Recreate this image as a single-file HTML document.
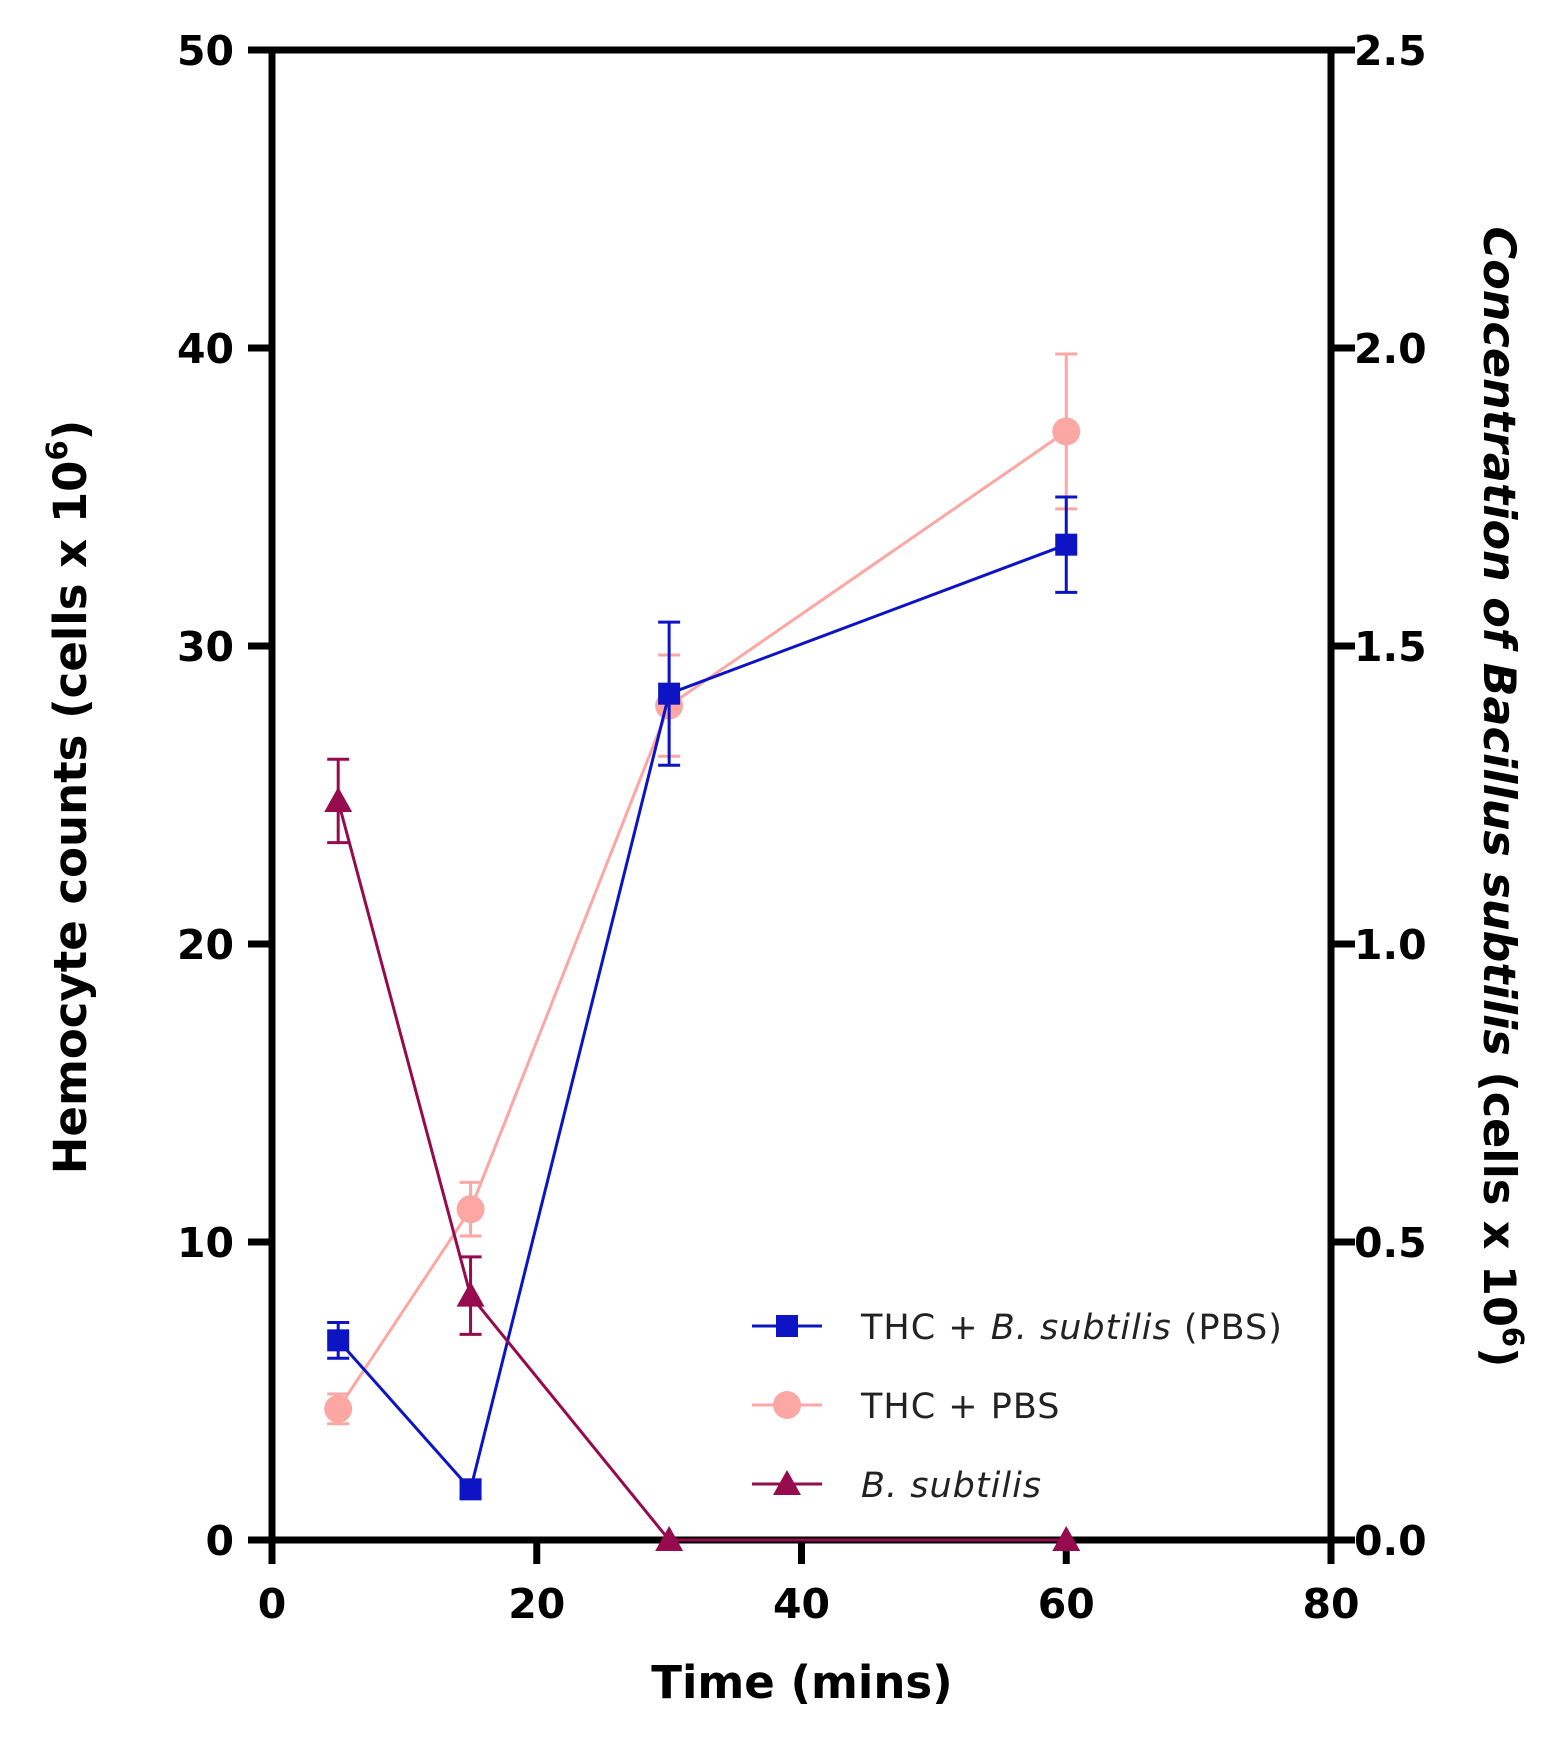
<!DOCTYPE html>
<html><head><meta charset="utf-8"><style>
html,body{margin:0;padding:0;background:#fff}
svg{display:block;font-family:"DejaVu Sans","Liberation Sans",Arial,sans-serif}
</style></head><body>
<svg id="chart" width="1545" height="1739" viewBox="0 0 1545 1739" xmlns="http://www.w3.org/2000/svg">
<g id="axes"></g>
<g id="series"></g>
<g id="legend"></g>
<text x="802" y="1698" text-anchor="middle" font-size="45" font-weight="bold">Time (mins)</text>
<text transform="translate(86,797) rotate(-90)" text-anchor="middle" font-size="45" font-weight="bold">Hemocyte counts (cells x 10<tspan font-size="29" dy="-19">6</tspan><tspan dy="19">)</tspan></text>
<text transform="translate(1484,797) rotate(90)" text-anchor="middle" font-size="44.5" font-weight="bold"><tspan font-style="italic">Concentration of Bacillus subtilis</tspan> (cells x 10<tspan font-size="29" dy="-19">6</tspan><tspan dy="19">)</tspan></text>
</svg>
<script>
const times = [5, 15, 30, 60];
const thcBs = [6.7, 1.7, 28.4, 33.4];
const thcBsErr = [0.6, 0.3, 2.4, 1.6];
const thcPbs = [4.4, 11.1, 28.0, 37.2];
const thcPbsErr = [0.5, 0.9, 1.7, 2.6];
const bs = [1.24, 0.41, 0.0, 0.0];
const bsErr = [0.07, 0.065, 0, 0];
const xTicks = [0, 20, 40, 60, 80];
const yTicks = [0, 10, 20, 30, 40, 50];
const y2Ticks = ["0.0", "0.5", "1.0", "1.5", "2.0", "2.5"];

const NS = "http://www.w3.org/2000/svg";
const L = 272, R = 1331, T = 50, B = 1540;
const xS = v => L + (v / 80) * (R - L);
const yS = v => B - (v / 50) * (B - T);
const y2S = v => B - (v / 2.5) * (B - T);
function mk(tag, attrs, parent) {
  const e = document.createElementNS(NS, tag);
  for (const k in attrs) e.setAttribute(k, attrs[k]);
  parent.appendChild(e);
  return e;
}
const axes = document.getElementById('axes');
const series = document.getElementById('series');
const legend = document.getElementById('legend');

let ax = mk('path', {d: `M${L},${T} L${R},${T} M${L},${T-3.5} L${L},${B+3.5} M${R},${T-3.5} L${R},${B+3.5} M${L-3.5},${B} L${R+3.5},${B}`, stroke: '#000', 'stroke-width': 7, fill: 'none'}, axes);



xTicks.forEach(v => {
  const x = xS(v);
  const t = mk('line', {x1: x, x2: x, y1: B, y2: B + 24, stroke: '#000', 'stroke-width': 7}, axes);
  
  
  const l = mk('text', {x: x, y: B + 78, 'text-anchor': 'middle', 'font-size': 41, 'font-weight': 'bold'}, axes);
  l.textContent = v;
  
  
});
yTicks.forEach(v => {
  const y = yS(v);
  const t = mk('line', {x1: L - 24, x2: L, y1: y, y2: y, stroke: '#000', 'stroke-width': 7}, axes);
  
  
  const l = mk('text', {x: 234, y: y + 15, 'text-anchor': 'end', 'font-size': 41, 'font-weight': 'bold'}, axes);
  l.textContent = v;
  
  
});
y2Ticks.forEach(s => {
  const y = y2S(parseFloat(s));
  const t = mk('line', {x1: R, x2: R + 24, y1: y, y2: y, stroke: '#000', 'stroke-width': 7}, axes);
  
  
  const l = mk('text', {x: 1354, y: y + 15, 'text-anchor': 'start', 'font-size': 41, 'font-weight': 'bold'}, axes);
  l.textContent = s;
  
  
});

function marker(kind, x, y, color, parent, name) {
  let m;
  if (kind === 'square') m = mk('rect', {x: x - 11, y: y - 11, width: 22, height: 22, fill: color}, parent);
  else if (kind === 'circle') m = mk('circle', {cx: x, cy: y, r: 14, fill: color}, parent);
  else m = mk('path', {d: `M${x},${y-14} L${x+14},${y+11} L${x-14},${y+11} Z`, fill: color}, parent);
  
  
}
function drawSeries(vals, errs, scale, color, kind, name) {
  const g = mk('g', {}, series);
  
  
  const pts = times.map((t, i) => [xS(t), scale(vals[i])]);
  const ln = mk('polyline', {points: pts.map(p => p.join(',')).join(' '), fill: 'none', stroke: color, 'stroke-width': 3}, g);
  
  
  times.forEach((t, i) => {
    if (errs[i] > 0) {
      const x = xS(t), y1 = scale(vals[i] + errs[i]), y2 = scale(vals[i] - errs[i]);
      const e = mk('path', {d: `M${x},${y1} L${x},${y2} M${x-11},${y1} L${x+11},${y1} M${x-11},${y2} L${x+11},${y2}`, stroke: color, 'stroke-width': 3, fill: 'none'}, g);
      
      
    }
    marker(kind, pts[i][0], pts[i][1], color, g, name + '-point');
  });
}
drawSeries(thcPbs, thcPbsErr, yS, '#fca7a3', 'circle', 'thc-pbs');
drawSeries(thcBs, thcBsErr, yS, '#0c14c4', 'square', 'thc-bsubtilis');
drawSeries(bs, bsErr, y2S, '#960a4e', 'triangle', 'bsubtilis');

const legItems = [
  ['#0c14c4', 'square', 'THC + <tspan font-style="italic">B. subtilis</tspan> (PBS)'],
  ['#fca7a3', 'circle', 'THC + PBS'],
  ['#960a4e', 'triangle', '<tspan font-style="italic">B. subtilis</tspan>']
];
legItems.forEach((it, i) => {
  const y = 1326 + i * 79;
  const g = mk('g', {}, legend);
  
  
  mk('line', {x1: 752, x2: 822, y1: y, y2: y, stroke: it[0], 'stroke-width': 3}, g);
  marker(it[1], 787, y, it[0], g, 'legend-marker');
  const t = mk('text', {x: 861, y: y + 13, 'font-size': 35, 'letter-spacing': 1, fill: '#222'}, g);
  t.innerHTML = it[2];
});
</script>
</body></html>
